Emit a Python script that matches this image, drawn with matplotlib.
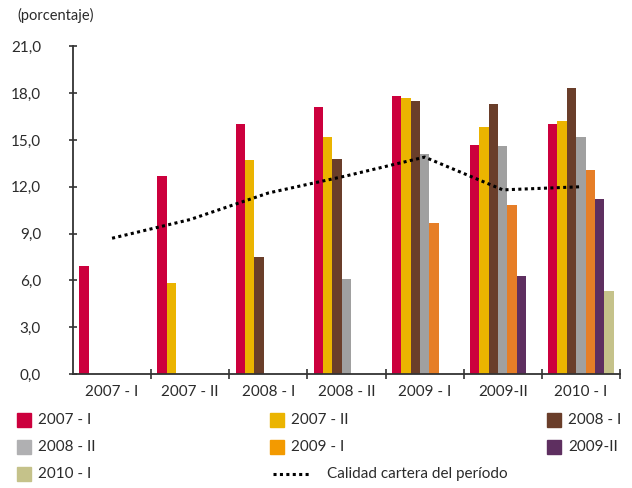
import numpy as np
import matplotlib
matplotlib.use("Agg")
import matplotlib.pyplot as plt
from matplotlib.patches import Rectangle
from matplotlib.lines import Line2D

plt.rcParams['font.family'] = ['Lato', 'DejaVu Sans']

# Periods on the x axis
periods = ["2007 - I", "2007 - II", "2008 - I", "2008 - II", "2009 - I", "2009-II", "2010 - I"]

# One series per vintage (cohort); NaN where the cohort does not exist yet
series_names = ["2007 - I", "2007 - II", "2008 - I", "2008 - II", "2009 - I", "2009-II", "2010 - I"]
v2007_1 = [6.9, 12.7, 16.0, 17.1, 17.8, 14.7, 16.0]
v2007_2 = [np.nan, 5.8, 13.7, 15.2, 17.7, 15.8, 16.2]
v2008_1 = [np.nan, np.nan, 7.5, 13.8, 17.5, 17.3, 18.3]
v2008_2 = [np.nan, np.nan, np.nan, 6.1, 14.1, 14.6, 15.2]
v2009_1 = [np.nan, np.nan, np.nan, np.nan, 9.7, 10.8, 13.1]
v2009_2 = [np.nan, np.nan, np.nan, np.nan, np.nan, 6.3, 11.2]
v2010_1 = [np.nan, np.nan, np.nan, np.nan, np.nan, np.nan, 5.3]
series_values = [v2007_1, v2007_2, v2008_1, v2008_2, v2009_1, v2009_2, v2010_1]

# Portfolio quality of each period
calidad = [8.7, 9.9, 11.6, 12.7, 13.9, 11.8, 12.0]
line_label = "Calidad cartera del período"

y_ticks = [0, 3, 6, 9, 12, 15, 18, 21]

bar_colors = ["#CC003D", "#EBB400", "#6A3E2A", "#A0A0A0", "#E67E27", "#5E2F60", "#C5C28A"]
legend_colors = ["#CC003D", "#EBB400", "#6A3E2A", "#B0B0B2", "#F39A00", "#5E2F60", "#C5C28A"]
text_color = "#2b2b2b"

W, H = 632, 488
fig = plt.figure(figsize=(W / 100, H / 100), dpi=100)
ax = fig.add_axes([73 / W, 1 - 374 / H, (620 - 73) / W, (374 - 46.3) / H])

x = np.arange(len(periods))
bw = 0.12
n = len(series_values)
for j, vals in enumerate(series_values):
    ax.bar(x + (j - (n - 1) / 2) * bw, vals, width=bw, color=bar_colors[j],
           linewidth=0, zorder=2)

ax.plot(x, calidad, color="black", linewidth=2.2, linestyle=(0, (1, 1.1)),
        dash_capstyle="butt", zorder=3)

ax.set_xlim(-0.5, len(periods) - 0.5)
ax.set_ylim(0, 21)
ax.set_yticks(y_ticks)
ax.set_yticklabels([f"{v:.1f}".replace(".", ",") for v in y_ticks])
ax.set_xticks(x)
ax.set_xticklabels(periods)
ax.set_xticks(np.arange(0.5, len(periods), 1.0), minor=True)

for s in ["top", "right"]:
    ax.spines[s].set_visible(False)
for s in ["left", "bottom"]:
    ax.spines[s].set_color("#333333")
    ax.spines[s].set_linewidth(1.3)

ax.tick_params(axis="y", direction="inout", length=6, width=1.2, color="#333333",
               labelsize=11, labelcolor=text_color, pad=20)
ax.tick_params(axis="x", which="major", length=0, labelsize=11,
               labelcolor=text_color, pad=8)
ax.tick_params(axis="x", which="minor", direction="inout", length=7, width=1.2,
               color="#333333")

fig.text(17 / W, 1 - 15 / H, "(porcentaje)", fontsize=10.5, color=text_color,
         ha="left", va="center")

# Legend laid out in three columns below the axes
col_x = [17, 270, 547]
row_y = [420, 447, 474]
layout = [(0, 0, 0), (1, 1, 0), (2, 2, 0), (3, 0, 1), (4, 1, 1), (5, 2, 1), (6, 0, 2)]
for idx, c, r in layout:
    px, py = col_x[c], row_y[r]
    fig.patches.append(Rectangle((px / W, 1 - (py + 7) / H), 14 / W, 14 / H,
                                 transform=fig.transFigure, color=legend_colors[idx]))
    fig.text((px + 21) / W, 1 - py / H, series_names[idx], fontsize=11,
             color=text_color, ha="left", va="center")

lx, ly = 273, 474
fig.lines.append(Line2D([lx / W, (lx + 38) / W], [1 - ly / H, 1 - ly / H],
                        transform=fig.transFigure, color="black", linewidth=2.2,
                        linestyle=(0, (1, 1.1)), dash_capstyle="butt"))
fig.text((lx + 54) / W, 1 - ly / H, line_label, fontsize=11, color=text_color,
         ha="left", va="center")

fig.savefig("out.png", dpi=100)
